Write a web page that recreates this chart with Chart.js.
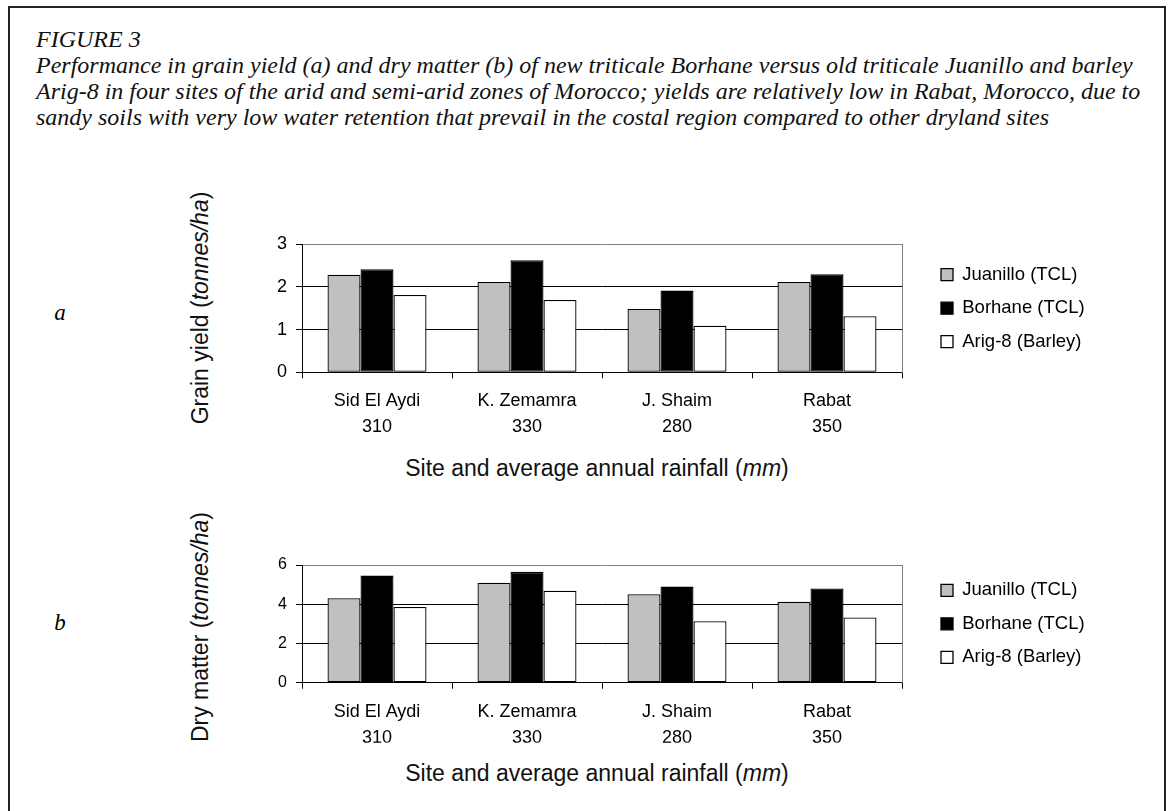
<!DOCTYPE html>
<html><head><meta charset="utf-8">
<script src="https://cdn.jsdelivr.net/npm/chart.js@4"></script>
<style>
html,body{margin:0;padding:0;background:#fff;}
body{width:1174px;height:811px;position:relative;overflow:hidden;font-family:"Liberation Sans",Arial,sans-serif;color:#000;}
#frame{position:absolute;left:8px;top:6px;width:1158px;height:860px;border:2.5px solid #222;box-sizing:border-box;}
#caption{position:absolute;left:36px;top:26px;font:italic 24px/26px "Liberation Serif","Times New Roman",serif;color:#111;white-space:nowrap;}
.panel{position:absolute;font:italic 23px "Liberation Serif","Times New Roman",serif;transform:translate(-50%,-50%);}
.ytitle,.xtitle{position:absolute;font:23px "Liberation Sans",Arial,sans-serif;white-space:nowrap;color:#111;}
.ytitle{transform:translate(-50%,-50%) rotate(-90deg);}
.xtitle{transform:translate(-50%,-50%);}
canvas{position:absolute;left:0;}
</style></head>
<body>
<div id="frame"></div>
<div id="caption">FIGURE 3<br>Performance in grain yield (a) and dry matter (b) of new triticale Borhane versus old triticale Juanillo and barley<br>Arig-8 in four sites of the arid and semi-arid zones of Morocco; yields are relatively low in Rabat, Morocco, due to<br>sandy soils with very low water retention that prevail in the costal region compared to other dryland sites</div>
<div class="panel" style="left:60px;top:313px;">a</div>
<div class="panel" style="left:60px;top:623px;">b</div>
<div class="ytitle" style="left:200px;top:308px;">Grain yield (<i>tonnes/ha</i>)</div>
<div class="ytitle" style="left:200px;top:627px;">Dry matter (<i>tonnes/ha</i>)</div>
<div class="xtitle" style="left:597px;top:468px;">Site and average annual rainfall (<i>mm</i>)</div>
<div class="xtitle" style="left:597px;top:773px;">Site and average annual rainfall (<i>mm</i>)</div>
<canvas id="c1" width="1174" height="330" style="top:160px;width:1174px;height:330px;"></canvas>
<canvas id="c2" width="1174" height="320" style="top:490px;width:1174px;height:320px;"></canvas>
<script>
const sites = ['Sid El Aydi', 'K. Zemamra', 'J. Shaim', 'Rabat'];
const rainfall = ['310', '330', '280', '350'];
const seriesNames = ['Juanillo (TCL)', 'Borhane (TCL)', 'Arig-8 (Barley)'];
const grainJuanillo = [2.28, 2.11, 1.48, 2.11];
const grainBorhane = [2.41, 2.62, 1.91, 2.29];
const grainArig = [1.81, 1.69, 1.09, 1.31];
const dryJuanillo = [4.31, 5.09, 4.51, 4.13];
const dryBorhane = [5.46, 5.65, 4.90, 4.80];
const dryArig = [3.86, 4.69, 3.13, 3.32];
const grainAxis = {min: 0, max: 3, step: 1};
const dryAxis = {min: 0, max: 6, step: 2};
const seriesFill = ['#c0c0c0', '#000000', '#ffffff'];

const FONT = 'Liberation Sans, Arial, sans-serif';
const PLOT_LEFT = 302;
const PLOT_RIGHT = 902;

function makeChart(id, data, axis, yFont, pad) {
  const labels = sites.map((s, i) => [s, rainfall[i]]);
  const datasets = data.map((vals, i) => ({
    label: seriesNames[i],
    data: vals,
    backgroundColor: seriesFill[i],
    borderColor: '#000',
    borderWidth: 1.3,
    borderSkipped: false,
    categoryPercentage: 0.66,
    barPercentage: 1.0
  }));
  const chart = new Chart(document.getElementById(id), {
    type: 'bar',
    data: {labels, datasets},
    options: {
      responsive: false,
      animation: false,
      events: [],
      layout: {padding: pad},
      plugins: {
        tooltip: {enabled: false},
        legend: {
          position: 'right',
          fullSize: false,
          align: 'center',
          labels: {boxWidth: 12, boxHeight: 12, padding: 15, color: '#000', font: {size: 18.5, family: FONT}}
        }
      },
      scales: {
        x: {
          grid: {offset: true, drawOnChartArea: false, color: '#000', tickColor: '#000', tickLength: 6},
          border: {color: '#000', width: 1},
          ticks: {color: '#000', font: {size: 18, family: FONT, lineHeight: 1.45}, padding: 10, maxRotation: 0, autoSkip: false},
          afterFit: s => { s.height = 60; }
        },
        y: {
          min: axis.min, max: axis.max,
          ticks: {stepSize: axis.step, color: '#000', font: {size: yFont, family: FONT}, padding: 9},
          grid: {color: ctx => (ctx.tick && ctx.tick.value === axis.max) ? '#808080' : '#000', tickColor: '#000', tickLength: 6, lineWidth: 1},
          border: {color: '#000', width: 1},
          afterFit: s => { s.width = PLOT_LEFT; }
        },
        y2: {
          type: 'linear', position: 'right', display: true,
          ticks: {display: false},
          grid: {display: false, drawTicks: false},
          border: {color: '#808080', width: 1},
          afterFit: s => { s.width = 24; }
        }
      }
    }
  });
  const dx = PLOT_RIGHT - chart.chartArea.right;
  if (Math.abs(dx) > 0.5) {
    chart.options.layout.padding.right -= dx;
    chart.update();
  }
  return chart;
}

makeChart('c1', [grainJuanillo, grainBorhane, grainArig], grainAxis, 18, {left: 0, right: 85, top: 84, bottom: 57.7});
makeChart('c2', [dryJuanillo, dryBorhane, dryArig], dryAxis, 16, {left: 0, right: 85, top: 75, bottom: 67.3});
</script>
</body></html>
